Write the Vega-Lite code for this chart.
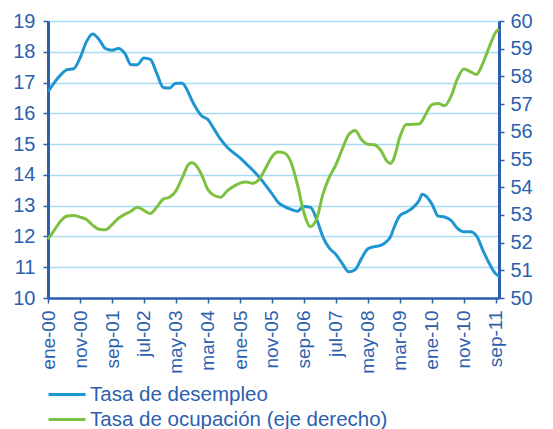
{
  "$schema": "https://vega.github.io/schema/vega-lite/v6.json",
  "width": 451,
  "height": 277,
  "autosize": {"type": "none"},
  "padding": {"left": 48, "top": 21, "right": 54, "bottom": 131},
  "background": "white",
  "config": {
    "font": "Liberation Sans",
    "view": {"stroke": null},
    "axis": {
      "domainColor": "#2c5fae",
      "tickColor": "#2c5fae",
      "labelColor": "#2c5fae",
      "titleColor": "#2c5fae",
      "labelFont": "Liberation Sans",
      "tickSize": 5,
      "tickWidth": 1.5
    }
  },
  "data": {
    "values": [
      {"fecha": "2000-01-01", "desempleo": 16.70, "ocupacion": 52.12},
      {"fecha": "2000-03-01", "desempleo": 17.00, "ocupacion": 52.45},
      {"fecha": "2000-05-01", "desempleo": 17.25, "ocupacion": 52.78},
      {"fecha": "2000-07-01", "desempleo": 17.42, "ocupacion": 52.96},
      {"fecha": "2000-09-01", "desempleo": 17.45, "ocupacion": 52.98},
      {"fecha": "2000-11-01", "desempleo": 17.80, "ocupacion": 52.92},
      {"fecha": "2001-01-01", "desempleo": 18.33, "ocupacion": 52.83},
      {"fecha": "2001-03-01", "desempleo": 18.58, "ocupacion": 52.63},
      {"fecha": "2001-05-01", "desempleo": 18.40, "ocupacion": 52.48},
      {"fecha": "2001-07-01", "desempleo": 18.10, "ocupacion": 52.46},
      {"fecha": "2001-09-01", "desempleo": 18.05, "ocupacion": 52.65},
      {"fecha": "2001-11-01", "desempleo": 18.11, "ocupacion": 52.88},
      {"fecha": "2002-01-01", "desempleo": 17.95, "ocupacion": 53.02},
      {"fecha": "2002-03-01", "desempleo": 17.58, "ocupacion": 53.13},
      {"fecha": "2002-05-01", "desempleo": 17.58, "ocupacion": 53.28},
      {"fecha": "2002-07-01", "desempleo": 17.80, "ocupacion": 53.16},
      {"fecha": "2002-09-01", "desempleo": 17.75, "ocupacion": 53.05},
      {"fecha": "2002-11-01", "desempleo": 17.30, "ocupacion": 53.28},
      {"fecha": "2003-01-01", "desempleo": 16.84, "ocupacion": 53.57},
      {"fecha": "2003-03-01", "desempleo": 16.82, "ocupacion": 53.64},
      {"fecha": "2003-05-01", "desempleo": 16.98, "ocupacion": 53.86},
      {"fecha": "2003-07-01", "desempleo": 16.98, "ocupacion": 54.34},
      {"fecha": "2003-09-01", "desempleo": 16.65, "ocupacion": 54.83},
      {"fecha": "2003-10-01", "desempleo": 16.42, "ocupacion": 54.88},
      {"fecha": "2003-11-01", "desempleo": 16.22, "ocupacion": 54.82},
      {"fecha": "2004-01-01", "desempleo": 15.92, "ocupacion": 54.45},
      {"fecha": "2004-03-01", "desempleo": 15.80, "ocupacion": 53.92},
      {"fecha": "2004-05-01", "desempleo": 15.48, "ocupacion": 53.70},
      {"fecha": "2004-07-01", "desempleo": 15.15, "ocupacion": 53.64},
      {"fecha": "2004-09-01", "desempleo": 14.90, "ocupacion": 53.87},
      {"fecha": "2004-11-01", "desempleo": 14.72, "ocupacion": 54.03},
      {"fecha": "2005-01-01", "desempleo": 14.55, "ocupacion": 54.15},
      {"fecha": "2005-03-01", "desempleo": 14.36, "ocupacion": 54.19},
      {"fecha": "2005-05-01", "desempleo": 14.16, "ocupacion": 54.14},
      {"fecha": "2005-07-01", "desempleo": 13.93, "ocupacion": 54.28},
      {"fecha": "2005-09-01", "desempleo": 13.67, "ocupacion": 54.68},
      {"fecha": "2005-11-01", "desempleo": 13.39, "ocupacion": 55.10},
      {"fecha": "2006-01-01", "desempleo": 13.10, "ocupacion": 55.27},
      {"fecha": "2006-03-01", "desempleo": 12.97, "ocupacion": 55.23},
      {"fecha": "2006-05-01", "desempleo": 12.88, "ocupacion": 54.90},
      {"fecha": "2006-07-01", "desempleo": 12.82, "ocupacion": 54.10},
      {"fecha": "2006-09-01", "desempleo": 12.97, "ocupacion": 53.08},
      {"fecha": "2006-11-01", "desempleo": 12.95, "ocupacion": 52.58},
      {"fecha": "2007-01-01", "desempleo": 12.55, "ocupacion": 52.87},
      {"fecha": "2007-03-01", "desempleo": 11.98, "ocupacion": 53.75},
      {"fecha": "2007-05-01", "desempleo": 11.62, "ocupacion": 54.36},
      {"fecha": "2007-07-01", "desempleo": 11.42, "ocupacion": 54.80},
      {"fecha": "2007-09-01", "desempleo": 11.12, "ocupacion": 55.38},
      {"fecha": "2007-11-01", "desempleo": 10.85, "ocupacion": 55.90},
      {"fecha": "2008-01-01", "desempleo": 10.92, "ocupacion": 56.05},
      {"fecha": "2008-03-01", "desempleo": 11.28, "ocupacion": 55.72},
      {"fecha": "2008-05-01", "desempleo": 11.60, "ocupacion": 55.55},
      {"fecha": "2008-07-01", "desempleo": 11.67, "ocupacion": 55.53},
      {"fecha": "2008-09-01", "desempleo": 11.71, "ocupacion": 55.33},
      {"fecha": "2008-11-01", "desempleo": 11.85, "ocupacion": 54.93},
      {"fecha": "2008-12-01", "desempleo": 11.98, "ocupacion": 54.86},
      {"fecha": "2009-01-01", "desempleo": 12.25, "ocupacion": 55.01},
      {"fecha": "2009-03-01", "desempleo": 12.67, "ocupacion": 55.80},
      {"fecha": "2009-05-01", "desempleo": 12.79, "ocupacion": 56.26},
      {"fecha": "2009-07-01", "desempleo": 12.93, "ocupacion": 56.27},
      {"fecha": "2009-09-01", "desempleo": 13.17, "ocupacion": 56.28},
      {"fecha": "2009-10-01", "desempleo": 13.37, "ocupacion": 56.40},
      {"fecha": "2009-11-01", "desempleo": 13.32, "ocupacion": 56.62},
      {"fecha": "2010-01-01", "desempleo": 13.05, "ocupacion": 56.98},
      {"fecha": "2010-03-01", "desempleo": 12.66, "ocupacion": 57.02},
      {"fecha": "2010-05-01", "desempleo": 12.63, "ocupacion": 56.94},
      {"fecha": "2010-07-01", "desempleo": 12.52, "ocupacion": 57.28},
      {"fecha": "2010-09-01", "desempleo": 12.26, "ocupacion": 57.92},
      {"fecha": "2010-11-01", "desempleo": 12.15, "ocupacion": 58.27},
      {"fecha": "2011-01-01", "desempleo": 12.15, "ocupacion": 58.17},
      {"fecha": "2011-03-01", "desempleo": 12.02, "ocupacion": 58.07},
      {"fecha": "2011-05-01", "desempleo": 11.55, "ocupacion": 58.48},
      {"fecha": "2011-07-01", "desempleo": 11.12, "ocupacion": 59.07},
      {"fecha": "2011-09-01", "desempleo": 10.78, "ocupacion": 59.60},
      {"fecha": "2011-10-01", "desempleo": 10.72, "ocupacion": 59.70}
    ]
  },
  "encoding": {
    "x": {
      "field": "fecha",
      "type": "temporal",
      "title": null,
      "scale": {
        "type": "utc",
        "domain": [
          {"year": 2000, "month": 1, "date": 1, "utc": true},
          {"year": 2011, "month": 10, "date": 1, "utc": true}
        ]
      },
      "axis": {
        "values": [
          {"year": 2000, "month": 1, "date": 1, "utc": true},
          {"year": 2000, "month": 11, "date": 1, "utc": true},
          {"year": 2001, "month": 9, "date": 1, "utc": true},
          {"year": 2002, "month": 7, "date": 1, "utc": true},
          {"year": 2003, "month": 5, "date": 1, "utc": true},
          {"year": 2004, "month": 3, "date": 1, "utc": true},
          {"year": 2005, "month": 1, "date": 1, "utc": true},
          {"year": 2005, "month": 11, "date": 1, "utc": true},
          {"year": 2006, "month": 9, "date": 1, "utc": true},
          {"year": 2007, "month": 7, "date": 1, "utc": true},
          {"year": 2008, "month": 5, "date": 1, "utc": true},
          {"year": 2009, "month": 3, "date": 1, "utc": true},
          {"year": 2010, "month": 1, "date": 1, "utc": true},
          {"year": 2010, "month": 11, "date": 1, "utc": true},
          {"year": 2011, "month": 9, "date": 1, "utc": true}
        ],
        "labelExpr": "['ene','feb','mar','abr','may','jun','jul','ago','sep','oct','nov','dic'][utcmonth(datum.value)] + '-' + utcFormat(datum.value, '%y')",
        "labelAngle": -90,
        "labelFontSize": 19,
        "labelPadding": 7,
        "labelOverlap": false,
        "labelFlush": false,
        "domainWidth": 2.5,
        "grid": false
      }
    }
  },
  "layer": [
    {
      "mark": {"type": "line", "strokeWidth": 3, "interpolate": "monotone"},
      "encoding": {
        "y": {
          "field": "desempleo",
          "type": "quantitative",
          "title": null,
          "scale": {"domain": [10, 19], "nice": false, "zero": false},
          "axis": {
            "orient": "left",
            "values": [10, 11, 12, 13, 14, 15, 16, 17, 18, 19],
            "labelFontSize": 20,
            "labelPadding": 8,
            "domainWidth": 3,
            "grid": true,
            "gridColor": "#a6dcf3",
            "gridWidth": 1.5
          }
        },
        "color": {
          "datum": "Tasa de desempleo",
          "type": "nominal",
          "scale": {
            "domain": ["Tasa de desempleo", "Tasa de ocupación (eje derecho)"],
            "range": ["#1f95d2", "#7cc142"]
          },
          "legend": {
            "title": null,
            "orient": "none",
            "legendX": -1,
            "legendY": 361,
            "direction": "vertical",
            "symbolType": "stroke",
            "symbolSize": 1369,
            "symbolStrokeWidth": 3,
            "labelFontSize": 20.5,
            "labelColor": "#2c5fae",
            "labelFont": "Liberation Sans",
            "labelOffset": 3,
            "labelLimit": 0,
            "clipHeight": 25,
            "rowPadding": 0,
            "padding": 0
          }
        }
      }
    },
    {
      "mark": {"type": "line", "strokeWidth": 3, "interpolate": "monotone"},
      "encoding": {
        "y": {
          "field": "ocupacion",
          "type": "quantitative",
          "title": null,
          "scale": {"domain": [50, 60], "nice": false, "zero": false},
          "axis": {
            "orient": "right",
            "values": [50, 51, 52, 53, 54, 55, 56, 57, 58, 59, 60],
            "labelFontSize": 20,
            "labelPadding": 6,
            "domainWidth": 3,
            "grid": false
          }
        },
        "color": {"datum": "Tasa de ocupación (eje derecho)", "type": "nominal"}
      }
    }
  ],
  "resolve": {"scale": {"y": "independent"}}
}
